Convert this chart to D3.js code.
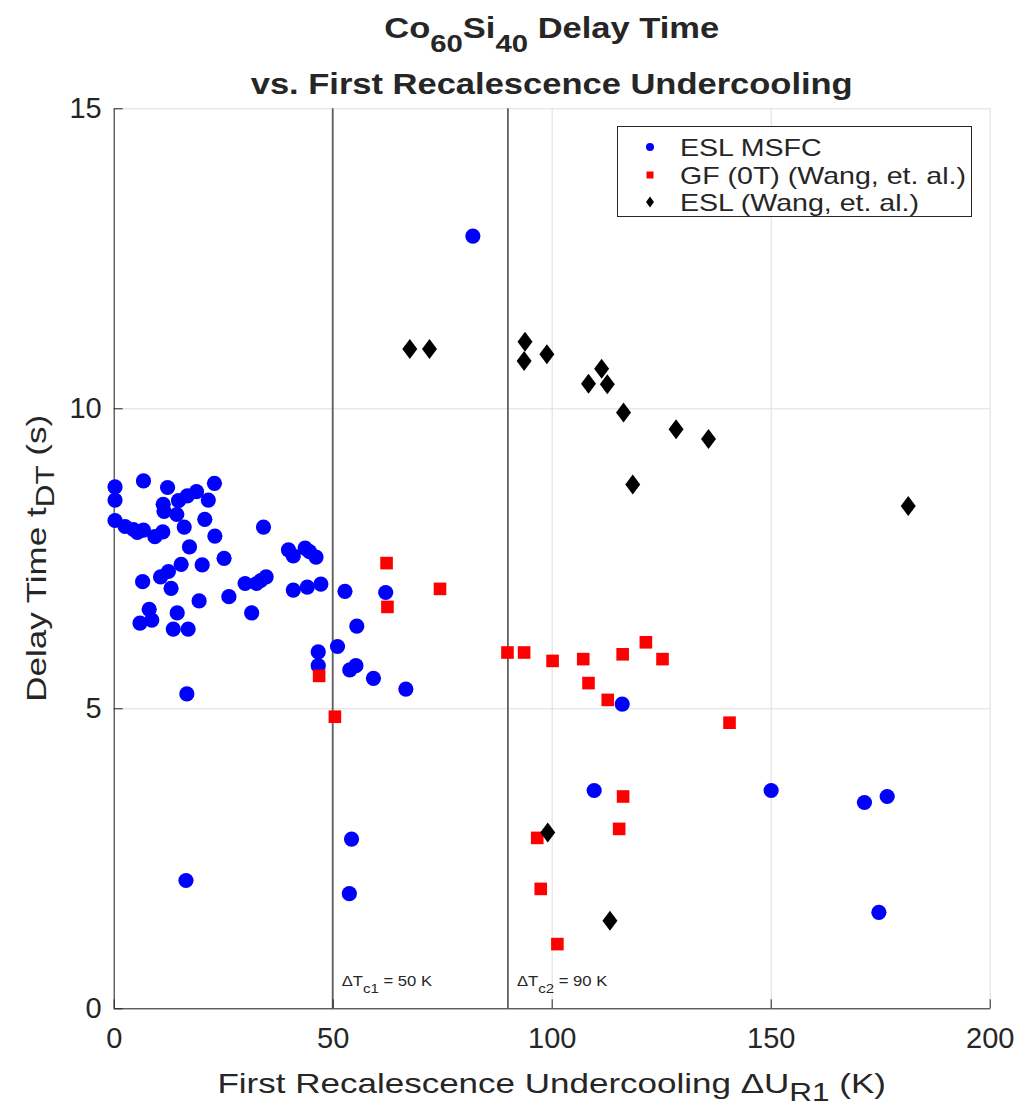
<!DOCTYPE html>
<html>
<head>
<meta charset="utf-8">
<script src="https://d3js.org/d3.v7.min.js"></script>
<style>
  body { margin: 0; background: #fff; }
  svg text { font-family: "Liberation Sans", Arial, Helvetica, sans-serif; }
</style>
</head>
<body>
<svg width="1018" height="1110"></svg>
<script>
// ESL MSFC (blue circles)
var msfcX = [0.3, 0.3, 0.3, 6.8, 12.3, 23.0, 18.9, 16.8, 14.8, 21.6, 11.3, 11.5, 14.4, 20.8, 16.1,
             2.6, 4.5, 6.8, 5.4, 9.4, 11.2, 23.1, 34.2, 17.3, 25.2, 39.9, 41.0, 43.7, 44.7, 46.2,
             15.4, 20.2, 12.5, 10.7, 6.6, 13.1, 30.0, 32.6, 34.8, 33.6, 41.0, 44.2, 47.3, 52.8, 26.3,
             19.5, 31.5, 8.1, 8.7, 6.0, 14.5, 13.6, 17.0, 55.5, 51.1, 46.7, 46.7, 53.9, 55.3, 16.7,
             62.1, 59.3, 66.7, 82.0, 116.1, 109.7, 54.3, 53.8, 150.1, 171.4, 176.6, 174.7, 16.5];
var msfcY = [8.69, 8.47, 8.13, 8.79, 8.68, 8.75, 8.61, 8.54, 8.46, 8.47, 8.40, 8.28, 8.23, 8.15, 8.02,
             8.03, 7.98, 7.97, 7.93, 7.86, 7.94, 7.87, 8.02, 7.69, 7.50, 7.64, 7.54, 7.67, 7.61, 7.52,
             7.40, 7.39, 7.28, 7.19, 7.11, 7.00, 7.08, 7.08, 7.19, 7.13, 6.97, 7.02, 7.07, 6.95, 6.86,
             6.79, 6.59, 6.65, 6.47, 6.42, 6.59, 6.32, 6.32, 6.37, 6.03, 5.94, 5.71, 5.64, 5.71, 5.24,
             6.93, 5.50, 5.32, 12.87, 5.07, 3.63, 2.82, 1.91, 3.63, 3.43, 3.53, 1.60, 2.13];

// GF (0T) (Wang, et. al.) (red squares)
var gfX = [62.3, 62.5, 74.5, 46.9, 50.5, 89.9, 93.7, 100.2, 107.2, 108.4,
           112.8, 116.2, 121.5, 125.3, 140.6, 116.3, 96.7, 115.4, 97.5, 101.3];
var gfY = [7.42, 6.69, 6.99, 5.54, 4.86, 5.93, 5.93, 5.79, 5.82, 5.42,
           5.14, 5.90, 6.10, 5.82, 4.76, 3.53, 2.84, 2.99, 1.99, 1.07];

// ESL (Wang, et. al.) (black diamonds)
var eslX = [67.6, 72.1, 93.9, 93.7, 98.9, 111.4, 108.4, 112.7, 116.4, 128.4, 135.8, 118.5, 181.4, 99.1, 113.3];
var eslY = [10.99, 10.99, 11.11, 10.79, 10.90, 10.66, 10.41, 10.40, 9.93, 9.65, 9.49, 8.73, 8.37, 2.93, 1.46];

var xTicks = [0, 50, 100, 150, 200];
var yTicks = [0, 5, 10, 15];
var critX = [50, 90];
var critLabels = [["c1", "= 50 K"], ["c2", "= 90 K"]];
var legendNames = ["ESL MSFC", "GF (0T) (Wang, et. al.)", "ESL (Wang, et. al.)"];

var svg = d3.select("svg");
// plot box in pixels
var pL = 113.7, pR = 989.7, pT = 108.3, pB = 1008.3;
var ink = "#262626";

var x = d3.scaleLinear().domain([0, 200]).range([pL, pR]);
var y = d3.scaleLinear().domain([0, 15]).range([pB, pT]);

// text helper: parts = [[string, isSub], ...], stretched a bit sideways like the original
function addText(parent, px, py, anchor, size, sx, weight, parts, subScale, subShift, rotate) {
    var g = parent.append("g")
        .attr("transform", "translate(" + px + "," + py + ")" + (rotate ? " rotate(" + rotate + ")" : "") + " scale(" + sx + ",1)");
    var t = g.append("text")
        .attr("text-anchor", anchor)
        .attr("font-size", size)
        .attr("font-weight", weight)
        .attr("fill", ink);
    var shifted = false;
    parts.forEach(function (p) {
        var s = t.append("tspan").text(p[0]);
        if (p[1]) {
            s.attr("font-size", size * subScale).attr("dy", subShift);
            shifted = true;
        } else if (shifted) {
            s.attr("dy", -subShift);
            shifted = false;
        }
    });
    return t;
}

// grid
svg.append("g")
    .attr("transform", "translate(0," + pB + ")")
    .call(d3.axisBottom(x).tickValues(xTicks).tickSize(-(pB - pT)).tickFormat(""))
    .call(function (g) {
        g.select(".domain").remove();
        g.selectAll("line").attr("stroke", "#dedede");
    });
svg.append("g")
    .attr("transform", "translate(" + pL + ",0)")
    .call(d3.axisLeft(y).tickValues(yTicks).tickSize(-(pR - pL)).tickFormat(""))
    .call(function (g) {
        g.select(".domain").remove();
        g.selectAll("line").attr("stroke", "#dedede");
    });

// critical undercooling lines
svg.append("g").selectAll("line")
    .data(critX)
    .enter().append("line")
    .attr("x1", function (d) { return x(d); })
    .attr("x2", function (d) { return x(d); })
    .attr("y1", pT)
    .attr("y2", pB)
    .attr("stroke", "#606060")
    .attr("stroke-width", 1.8);

critX.forEach(function (d, i) {
    addText(svg, x(d) + 9, 986, "start", 14, 1.19, "normal",
        [["\u0394T", false], [critLabels[i][0], true], [" " + critLabels[i][1], false]], 0.9, 6.5);
});

// axes
var xAxis = svg.append("g")
    .attr("transform", "translate(0," + pB + ")")
    .call(d3.axisBottom(x).tickValues(xTicks).tickSizeInner(-9).tickSizeOuter(0).tickPadding(12));
var yAxis = svg.append("g")
    .attr("transform", "translate(" + pL + ",0)")
    .call(d3.axisLeft(y).tickValues(yTicks).tickSizeInner(-9).tickSizeOuter(0).tickPadding(12));
[xAxis, yAxis].forEach(function (a) {
    a.selectAll("path, line").attr("stroke", ink);
    a.selectAll("text")
        .attr("fill", ink)
        .style("font-family", "\"Liberation Sans\", Arial, sans-serif")
        .style("font-size", "29px");
});
xAxis.selectAll("text").attr("dy", "0.95em");

// markers
svg.append("g").selectAll("circle")
    .data(msfcX)
    .enter().append("circle")
    .attr("cx", function (d) { return x(d); })
    .attr("cy", function (d, i) { return y(msfcY[i]); })
    .attr("r", 7.6)
    .attr("fill", "#0000ff");

svg.append("g").selectAll("rect")
    .data(gfX)
    .enter().append("rect")
    .attr("x", function (d) { return x(d) - 6.3; })
    .attr("y", function (d, i) { return y(gfY[i]) - 6.3; })
    .attr("width", 12.6)
    .attr("height", 12.6)
    .attr("fill", "#ff0000");

var diamond = "M0,-10L7.5,0L0,10L-7.5,0Z";
svg.append("g").selectAll("path")
    .data(eslX)
    .enter().append("path")
    .attr("d", diamond)
    .attr("transform", function (d, i) { return "translate(" + x(d) + "," + y(eslY[i]) + ")"; })
    .attr("fill", "#000");

// legend
var leg = svg.append("g");
leg.append("rect")
    .attr("x", 617.5).attr("y", 126.5)
    .attr("width", 354).attr("height", 90)
    .attr("fill", "#fff").attr("stroke", ink).attr("stroke-width", 1);
var legY = [147, 175, 202];
leg.append("circle").attr("cx", 650).attr("cy", legY[0]).attr("r", 4).attr("fill", "#0000ff");
leg.append("rect").attr("x", 646.5).attr("y", legY[1] - 3.5).attr("width", 7).attr("height", 7).attr("fill", "#ff0000");
leg.append("path").attr("d", "M0,-5.5L4,0L0,5.5L-4,0Z").attr("transform", "translate(650," + legY[2] + ")").attr("fill", "#000");
legendNames.forEach(function (n, i) {
    addText(leg, 680, legY[i] + 8.5, "start", 24, 1.19, "normal", [[n, false]]);
});

// labels
var cx = (pL + pR) / 2;
addText(svg, cx, 1093, "middle", 28, 1.25, "normal",
    [["First Recalescence Undercooling \u0394U", false], ["R1", true], [" (K)", false]], 0.9, 8);
addText(svg, 46, (pT + pB) / 2, "middle", 28, 1.25, "normal",
    [["Delay Time t", false], ["DT", true], [" (s)", false]], 0.9, 8, -90);

// title
addText(svg, cx, 38, "middle", 29, 1.19, "bold",
    [["Co", false], ["60", true], ["Si", false], ["40", true], [" Delay Time", false]], 0.85, 14);
addText(svg, cx, 94, "middle", 29, 1.19, "bold",
    [["vs. First Recalescence Undercooling", false]]);
</script>
</body>
</html>
